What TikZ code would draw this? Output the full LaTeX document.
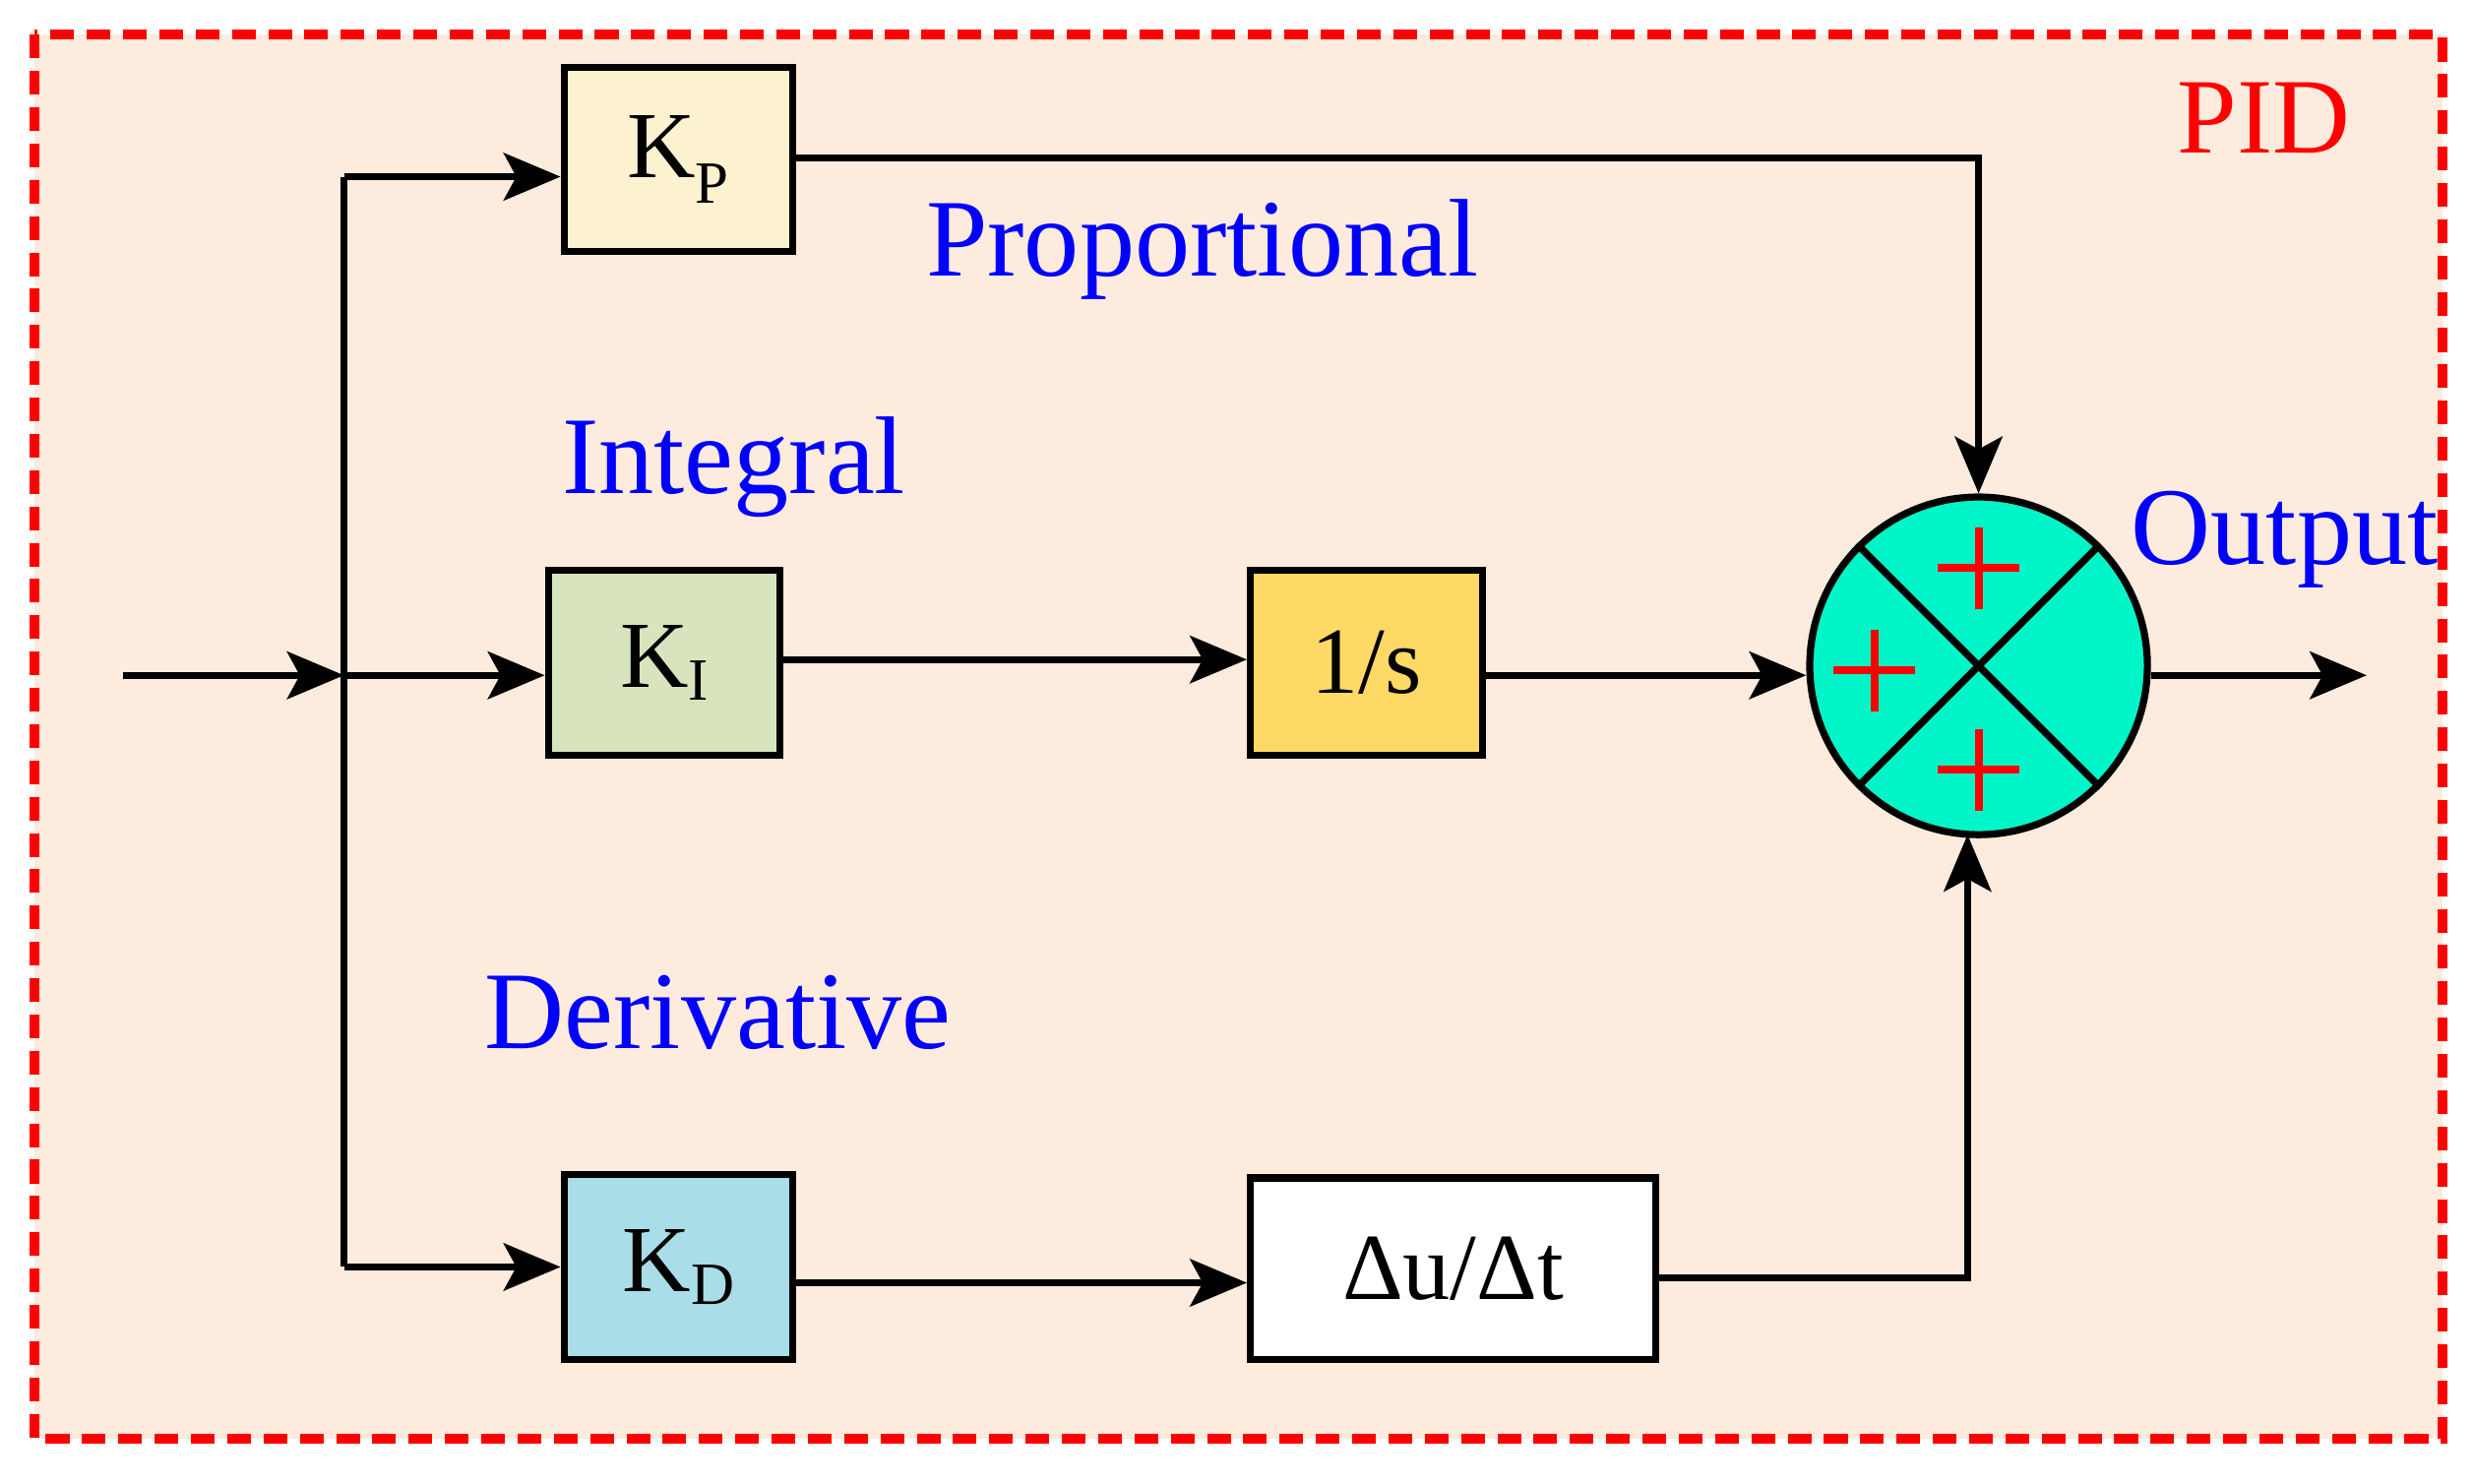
\documentclass[tikz,border=0pt]{standalone}
\usepackage{fontspec}
\setmainfont{Liberation Serif}
\usetikzlibrary{arrows.meta}
\definecolor{bgc}{HTML}{FDEBDD}
\definecolor{kpc}{HTML}{FDF2D0}
\definecolor{kic}{HTML}{D7E4BD}
\definecolor{sc}{HTML}{FFD966}
\definecolor{kdc}{HTML}{A9DDE8}
\definecolor{sumc}{HTML}{00F5C8}
\begin{document}
\begin{tikzpicture}[x=1pt,y=-1pt,
  line width=4.5pt,
  arr/.style={-{Stealth[length=36pt,width=30pt,inset=8pt]}},
  blk/.style={draw,line width=4.5pt,minimum width=145pt,minimum height=117pt,inner sep=0pt,font=\fontsize{60}{60}\selectfont},
  lab/.style={text=blue,font=\fontsize{70}{70}\selectfont,inner sep=0pt},
  pl/.style={red,line width=5pt}]
\useasboundingbox (0,0) rectangle (1568,940);
\draw[red,fill=bgc,line width=6.5pt,dash pattern=on 15pt off 8pt] (22,22) rectangle (1548,912);
\node[text=red,font=\fontsize{68}{68}\selectfont] (pid) at (1435,75) {PID};
\node[blk,fill=kpc] (kp) at (430,101) {K\textsubscript{\fontsize{38}{38}\selectfont P}};
\node[blk,fill=kic,minimum width=147pt] (ki) at (421,420) {K\raisebox{-8pt}{\fontsize{38}{38}\selectfont I}};
\node[blk,fill=sc,minimum width=147pt] (s) at (866,420) {1/s};
\node[blk,fill=kdc] (kd) at (430,803) {K\raisebox{-8pt}{\fontsize{38}{38}\selectfont D}};
\node[blk,fill=white,minimum width=257pt,minimum height=115pt] (du) at (921,804) {Δu/Δt};
\node[draw,circle,fill=sumc,minimum size=214pt,inner sep=0pt] (sum) at (1254,422) {};
\draw (sum.45) -- (sum.225) (sum.135) -- (sum.315);
\draw[pl] (1228,360)--(1280,360) (1254,334)--(1254,386);
\draw[pl] (1162,425)--(1214,425) (1188,399)--(1188,451);
\draw[pl] (1228,488)--(1280,488) (1254,462)--(1254,514);
\coordinate (in) at (78,428);
\coordinate (br) at (218,428);
\coordinate (bt) at (218,112);
\coordinate (bb) at (218,803);
\coordinate (out) at (1500,428);
\draw[arr] (in) -- (br);
\draw (bt) -- (bb);
\draw[arr] (bt) -- (kp.west|-bt);
\draw[arr] (br) -- (ki.west|-br);
\draw[arr] (bb) -- (kd.west|-bb);
\draw[arr] (kp.east|-0,100) -| (sum.north);
\draw[arr] (ki.east|-0,418) -- (s.west|-0,418);
\draw[arr] (s.east|-0,428) -- (sum.west|-0,428);
\draw[arr] (kd.east|-0,813) -- (du.west|-0,813);
\draw[arr] (du.east|-0,810) -| (1247,529);
\draw[arr] (sum.east|-out) -- (out);
\node[lab] (p) at (762,158) {Proportional};
\node[lab] (i) at (465,296) {Integral};
\node[lab] (d) at (455,642) {Derivative};
\node[lab] (o) at (1448,342) {Output};
\end{tikzpicture}
\end{document}
